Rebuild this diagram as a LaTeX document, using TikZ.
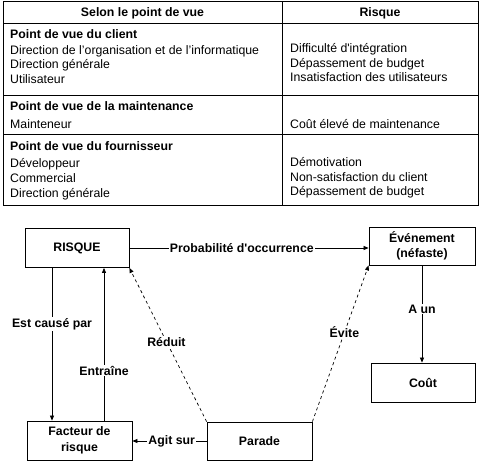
\documentclass[tikz,border=0pt]{standalone}
\usepackage{fontspec}
\setmainfont{Liberation Sans}[Ligatures=TeXOff]
\usetikzlibrary{arrows.meta,calc}
\tikzset{
  txt/.style={font=\fontsize{12.3}{14}\selectfont, inner sep=0pt, anchor=base west},
  btxt/.style={txt, font=\bfseries\fontsize{12.3}{14}\selectfont},
  hd/.style={font=\bfseries\fontsize{12.3}{14}\selectfont, inner sep=0pt, anchor=base},
  tline/.style={line width=0.8pt},
  box/.style={draw, line width=0.8pt, font=\bfseries\fontsize{12.3}{15.5}\selectfont, align=center, inner sep=0pt},
  lab/.style={fill=white, font=\bfseries\fontsize{12.3}{14}\selectfont, inner sep=1pt},
  arr/.style={-{Triangle[length=5pt,width=4pt]}, line width=0.7pt},
  dsh/.style={arr, dash pattern=on 3pt off 3pt},
}
\begin{document}
\begin{tikzpicture}[x=1pt,y=-1pt]
\useasboundingbox (0,0) rectangle (481,467);
% ---- table ----
\draw[tline] (3,1) rectangle (478,205);
\draw[tline] (3,23) -- (478,23);
\draw[tline] (3,95) -- (478,95);
\draw[tline] (3,134) -- (478,134);
\draw[tline] (282,1) -- (282,205);
\node[hd] (h1) at (142.5,16.5) {Selon le point de vue};
\node[hd] (h2) at (380,16.5) {Risque};
% row 1
\node[btxt] (t1) at (10,38.5) {Point de vue du client};
\node[txt] (a1) at (10,54) {Direction de l’organisation et de l’informatique};
\node[txt] (a2) at (10,68.5) {Direction générale};
\node[txt] (a3) at (10,83) {Utilisateur};
\node[txt] (r1) at (290,52.5) {Difficulté d'intégration};
\node[txt] (r2) at (290,67) {Dépassement de budget};
\node[txt] (r3) at (290,81.5) {Insatisfaction des utilisateurs};
% row 2
\node[btxt] (t2) at (10,110.5) {Point de vue de la maintenance};
\node[txt] (b1) at (10,128) {Mainteneur};
\node[txt] (s1) at (290,128) {Coût élevé de maintenance};
% row 3
\node[btxt] (t3) at (10,150.5) {Point de vue du fournisseur};
\node[txt] (c1) at (10,167.5) {Développeur};
\node[txt] (c2) at (10,182.5) {Commercial};
\node[txt] (c3) at (10,197.5) {Direction générale};
\node[txt] (u1) at (290,166) {Démotivation};
\node[txt] (u2) at (290,181) {Non-satisfaction du client};
\node[txt] (u3) at (290,195.5) {Dépassement de budget};
% ---- diagram ----
\node[box, minimum width=104pt, minimum height=39pt] (R) at (77,248) {RISQUE};
\node[box, minimum width=106pt, minimum height=38pt] (E) at (422,246) {Événement\\(néfaste)};
\node[box, minimum width=104pt, minimum height=39pt] (C) at (423,382.5) {Coût};
\node[box, minimum width=105pt, minimum height=39pt] (F) at (79.5,440.5) {Facteur de\\risque};
\node[box, minimum width=105pt, minimum height=38pt] (P) at (259.5,441) {Parade};
\coordinate (xa) at (52,0);
\coordinate (xb) at (104,0);
\draw[arr] (R.east) -- node[lab, pos=0.47] (l1) {Probabilité d'occurrence} (R.east -| E.west);
\draw[arr] (xa |- R.south) -- node[lab, pos=0.366] (l2) {Est causé par} (xa |- F.north);
\draw[arr] (xb |- F.north) -- node[lab, pos=0.327] (l3) {Entraîne} (xb |- R.south);
\draw[arr] (E.south) -- node[lab, pos=0.45] (l4) {A un} (E.south |- C.north);
\draw[arr] (P.west) -- node[lab, pos=0.47] (l5) {Agit sur} (P.west -| F.east);
\draw[dsh] (P.north west) -- node[lab, pos=0.52] (l6) {Réduit} (R.south east);
\draw[dsh] (P.north east) -- node[lab, pos=0.57] (l7) {Évite} (E.south west);
\end{tikzpicture}
\end{document}
